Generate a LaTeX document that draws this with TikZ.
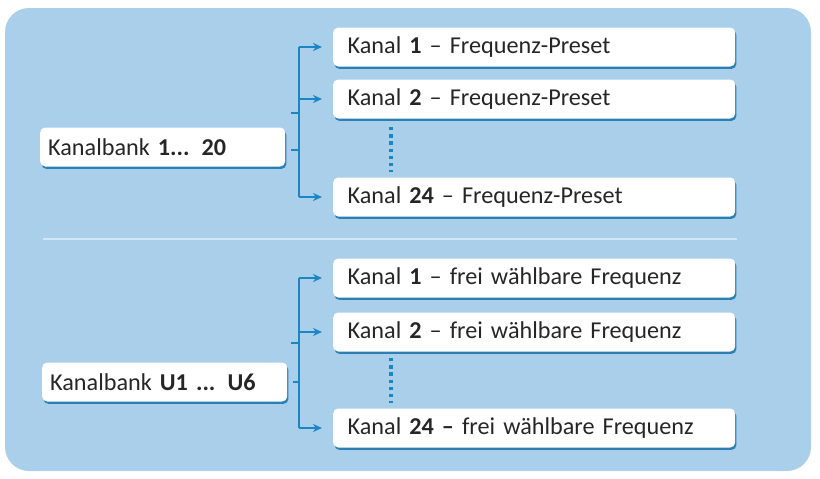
\documentclass[tikz,border=0pt]{standalone}
\usepackage{fontspec}
\setmainfont{Carlito}
\usetikzlibrary{shadows,arrows.meta}
\definecolor{panel}{HTML}{A9CFEB}
\definecolor{lineblue}{HTML}{1A86C4}
\definecolor{shadowblue}{HTML}{2C7FB2}
\definecolor{sepline}{HTML}{D2E8F8}
\begin{document}
\begin{tikzpicture}[x=1pt,y=-1pt,
  box/.style={fill=white, rounded corners=5pt,
    drop shadow={shadow xshift=1.2pt, shadow yshift=-2.4pt, fill=shadowblue, opacity=1},
    anchor=west, minimum height=39pt, align=left,
    font=\fontsize{24.2}{27}\selectfont, text=black!85},
  chan/.style={box, inner xsep=14.5pt, text width=373pt},
  bank/.style={box, inner xsep=8pt, text width=229pt},
  conn/.style={draw=lineblue, line width=2.6pt},
  arr/.style={conn, -{Stealth[length=9pt,width=8pt]}, shorten >=11pt},
  dots/.style={draw=lineblue, line width=3.8pt, dash pattern=on 3.4pt off 3.8pt}]
\useasboundingbox (0,0) rectangle (820,479);
\fill[panel, rounded corners=24pt] (5,8) rectangle (811,471);
\draw[sepline, line width=2pt] (43,239) -- (737,239);
\coordinate (bx) at (299,0);
% top group
\node[chan] (a1) at (333,47) {Kanal \textbf{1} -- Frequenz-Preset};
\node[chan] (a2) at (333,99) {Kanal \textbf{2} -- Frequenz-Preset};
\node[chan] (a24) at (333,197) {Kanal \textbf{24} -- Frequenz-Preset};
\node[bank] (ka) at (40,147) {Kanalbank \textbf{1... 20}};
\coordinate (sa) at (291,113);
\coordinate (da1) at (391,127);
\coordinate (da2) at (391,172);
\draw[conn] (a1.west -| bx) -- (a24.west -| bx);
\draw[arr] (a1.west -| bx) -- (a1.west);
\draw[arr] (a2.west -| bx) -- (a2.west);
\draw[arr] (a24.west -| bx) -- (a24.west);
\draw[conn] ([xshift=6pt,yshift=-3pt]ka.east) -- ([yshift=-3pt]ka.east -| bx);
\draw[conn] (sa) -- (sa -| bx);
\draw[dots] (da1) -- (da2);
% bottom group
\node[chan] (b1) at (333,278) {Kanal \textbf{1} -- frei wählbare Frequenz};
\node[chan] (b2) at (333,332) {Kanal \textbf{2} -- frei wählbare Frequenz};
\node[chan] (b24) at (333,428) {Kanal \textbf{24 --} frei wählbare Frequenz};
\node[bank] (kb) at (42,382) {Kanalbank \textbf{U1 ... U6}};
\coordinate (sb) at (291,343);
\coordinate (db1) at (391,358);
\coordinate (db2) at (391,403);
\draw[conn] (b1.west -| bx) -- (b24.west -| bx);
\draw[arr] (b1.west -| bx) -- (b1.west);
\draw[arr] (b2.west -| bx) -- (b2.west);
\draw[arr] (b24.west -| bx) -- (b24.west);
\draw[conn] ([xshift=6pt]kb.east) -- (kb.east -| bx);
\draw[conn] (sb) -- (sb -| bx);
\draw[dots] (db1) -- (db2);
\end{tikzpicture}
\end{document}
